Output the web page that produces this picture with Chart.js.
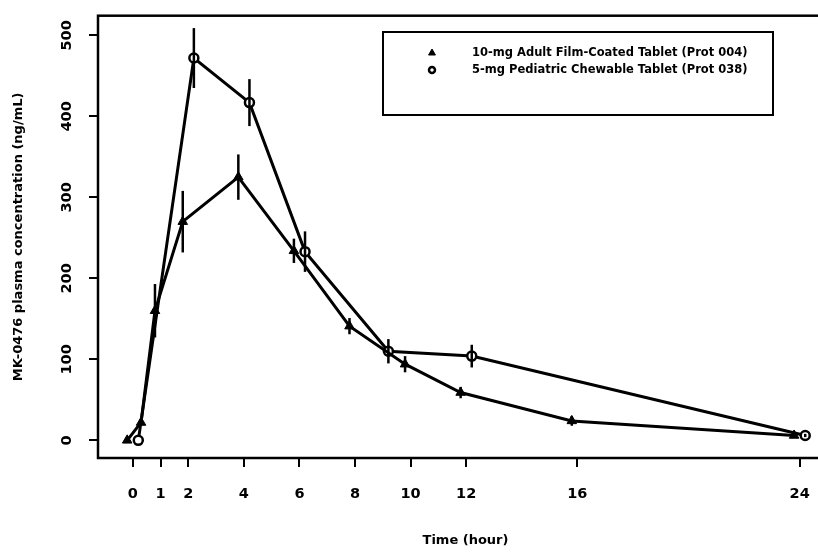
<!DOCTYPE html>
<html>
<head>
<meta charset="utf-8">
<script src="https://cdn.jsdelivr.net/npm/chart.js@4.4.1/dist/chart.umd.min.js"></script>
<style>
  html, body { margin: 0; padding: 0; background: #fff; overflow: hidden; }
  #wrap { width: 840px; height: 552px; }
</style>
</head>
<body>
<div id="wrap"><canvas id="pkChart" width="840" height="552"></canvas></div>
<script>
// nominal sampling times (hours) and mean +/- SD
const adultTimes = [0, 0.5, 1, 2, 4, 6, 8, 10, 12, 16, 24];
const adultConc = [0, 22, 160, 270, 325, 234, 141, 94, 59, 24, 6];
const adultErr = [0, 4, 33, 38, 28, 15, 10, 10, 7, 6, 3];

const pedTimes = [0, 2, 4, 6, 9, 12, 24];
const pedConc = [0, 472, 417, 233, 110, 104, 6];
const pedErr = [0, 37, 29, 25, 15, 14, 2];

const seriesLabels = [
  "10-mg Adult Film-Coated Tablet (Prot 004)",
  "5-mg Pediatric Chewable Tablet (Prot 038)"
];
const xTicks = [0, 1, 2, 4, 6, 8, 10, 12, 16, 24];
const yTicks = [0, 100, 200, 300, 400, 500];

// the two groups are drawn slightly apart in time so the bars don't overlap
const dodge = 0.2;
const FONT = "'DejaVu Sans', 'Liberation Sans', Arial, sans-serif";

function toPoints(times, conc, err, shift) {
  return times.map((t, i) => ({ x: t + shift, y: conc[i], err: err[i] }));
}

// vertical error bars, no caps
const errorBars = {
  id: "errorBars",
  afterDatasetsDraw(chart) {
    const { ctx, scales: { x, y } } = chart;
    ctx.save();
    ctx.strokeStyle = "#000";
    ctx.lineWidth = 2.5;
    chart.data.datasets.forEach(ds => {
      ds.data.forEach(p => {
        if (!p.err) return;
        const px = x.getPixelForValue(p.x);
        ctx.beginPath();
        ctx.moveTo(px, y.getPixelForValue(p.y + p.err));
        ctx.lineTo(px, y.getPixelForValue(p.y - p.err));
        ctx.stroke();
      });
    });
    ctx.restore();
  }
};

// R-style box round the plot region and the legend box inside it
const frameAndKey = {
  id: "frameAndKey",
  afterDraw(chart) {
    const { ctx, chartArea: a } = chart;
    ctx.save();
    ctx.strokeStyle = "#000";
    ctx.lineWidth = 2.5;
    ctx.strokeRect(a.left, a.top, a.right - a.left, a.bottom - a.top);

    // legend
    ctx.lineWidth = 2;
    ctx.strokeRect(383, 32, 390, 83);
    ctx.font = "bold 11.5px " + FONT;
    ctx.textBaseline = "middle";
    chart.data.datasets.forEach((ds, i) => {
      const ly = 53 + i * 17;
      ctx.fillStyle = ds.pointBackgroundColor;
      ctx.strokeStyle = "#000";
      ctx.lineWidth = ds.pointBorderWidth;
      Chart.helpers.drawPoint(ctx, {
        pointStyle: ds.pointStyle,
        radius: ds.pointRadius - 1.5,
        borderWidth: ds.pointBorderWidth,
        rotation: 0
      }, 432, ly);
      ctx.fillStyle = "#000";
      ctx.fillText(ds.label, 472, ly);
    });
    ctx.restore();
  }
};

const ctx = document.getElementById("pkChart").getContext("2d");
new Chart(ctx, {
  type: "scatter",
  data: {
    datasets: [
      {
        label: seriesLabels[0],
        data: toPoints(adultTimes, adultConc, adultErr, -dodge),
        showLine: true,
        borderColor: "#000",
        borderWidth: 3,
        pointStyle: "triangle",
        pointRadius: 5.5,
        pointBackgroundColor: "#000",
        pointBorderColor: "#000",
        pointBorderWidth: 1
      },
      {
        label: seriesLabels[1],
        data: toPoints(pedTimes, pedConc, pedErr, dodge),
        showLine: true,
        borderColor: "#000",
        borderWidth: 3,
        pointStyle: "circle",
        pointRadius: 4.5,
        pointBackgroundColor: "#fff",
        pointBorderColor: "#000",
        pointBorderWidth: 2.5
      }
    ]
  },
  options: {
    responsive: false,
    animation: false,
    layout: { padding: { top: 8, right: 0, bottom: 0, left: 0 } },
    plugins: {
      legend: { display: false },
      tooltip: { enabled: false }
    },
    scales: {
      x: {
        type: "linear",
        min: -1.25,
        max: 25.2,
        afterBuildTicks: scale => { scale.ticks = xTicks.map(v => ({ value: v })); },
        afterFit: scale => { scale.height = 94; },
        grid: { drawOnChartArea: false, drawTicks: true, tickLength: 9, color: "#000", lineWidth: 2 },
        border: { display: false },
        ticks: {
          autoSkip: false,
          maxRotation: 0,
          padding: 19,
          color: "#000",
          font: { family: FONT, size: 14.5, weight: "bold" }
        },
        title: {
          display: true,
          text: "Time (hour)",
          color: "#000",
          font: { family: FONT, size: 13, weight: "bold" },
          padding: { top: 0, bottom: 4 }
        }
      },
      y: {
        min: -21.8,
        max: 524.3,
        afterBuildTicks: scale => { scale.ticks = yTicks.map(v => ({ value: v })); },
        afterFit: scale => { scale.width = 98; },
        grid: { drawOnChartArea: false, drawTicks: true, tickLength: 9, color: "#000", lineWidth: 2 },
        border: { display: false },
        ticks: {
          minRotation: 90,
          maxRotation: 90,
          crossAlign: "center",
          padding: 7,
          color: "#000",
          font: { family: FONT, size: 14.5, weight: "bold" }
        },
        title: {
          display: true,
          text: "MK-0476 plasma concentration (ng/mL)",
          color: "#000",
          font: { family: FONT, size: 13, weight: "bold" },
          padding: { top: 11, bottom: 0 }
        }
      }
    }
  },
  plugins: [errorBars, frameAndKey]
});
</script>
</body>
</html>
